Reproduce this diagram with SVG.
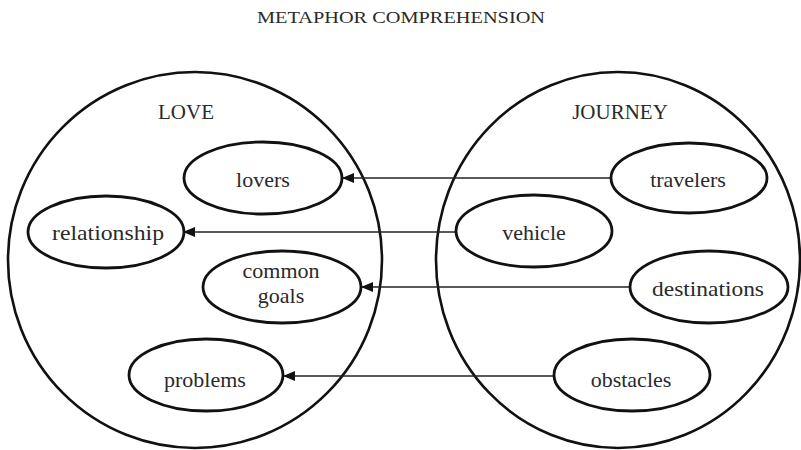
<svg xmlns="http://www.w3.org/2000/svg" width="801" height="450" viewBox="0 0 801 450">
  <defs>
    <style>
      .domain { fill: none; stroke: #111; stroke-width: 2.6; }
      .concept { fill: #fff; stroke: #111; stroke-width: 2.8; }
      .map { stroke: #222; stroke-width: 1.3; fill: none; marker-end: url(#arrow); }
    </style>
    <marker id="arrow" viewBox="0 0 12 10" refX="11" refY="5" markerWidth="12" markerHeight="10" markerUnits="userSpaceOnUse" orient="auto">
      <path d="M0,0 L12,5 L0,10 z" fill="#111"/>
    </marker>
  </defs>

  <rect width="801" height="450" fill="#fff"/>

  <g font-family="Liberation Serif, DejaVu Serif, Times New Roman, serif" fill="#2a2a2a" text-anchor="middle">
    <text font-size="16.5" x="401" y="23" textLength="288" lengthAdjust="spacingAndGlyphs">METAPHOR COMPREHENSION</text>
  </g>

  <!-- target domain -->
  <g id="love" font-family="Liberation Serif, DejaVu Serif, Times New Roman, serif" fill="#2a2a2a" text-anchor="middle">
    <ellipse class="domain" cx="195" cy="260" rx="187" ry="188"/>
    <text font-size="21" x="186" y="119">LOVE</text>
  </g>

  <!-- source domain -->
  <g id="journey" font-family="Liberation Serif, DejaVu Serif, Times New Roman, serif" fill="#2a2a2a" text-anchor="middle">
    <ellipse class="domain" cx="618" cy="260" rx="182" ry="188"/>
    <text font-size="21" x="620" y="119">JOURNEY</text>
  </g>

  <!-- mappings from source to target -->
  <g id="connectors">
    <line class="map" x1="611" y1="178" x2="343" y2="178"/>
    <line class="map" x1="455" y1="232" x2="184" y2="232"/>
    <line class="map" x1="630" y1="287" x2="362" y2="287"/>
    <line class="map" x1="554" y1="376" x2="284" y2="376"/>
  </g>

  <g font-family="Liberation Serif, DejaVu Serif, Times New Roman, serif" font-size="22" fill="#2a2a2a" text-anchor="middle">
    <g id="lovers">
      <ellipse class="concept" cx="263" cy="178" rx="79" ry="36"/>
      <text x="263" y="187">lovers</text>
    </g>
    <g id="relationship">
      <ellipse class="concept" cx="106" cy="232" rx="78" ry="36"/>
      <text x="108" y="240" textLength="112" lengthAdjust="spacingAndGlyphs">relationship</text>
    </g>
    <g id="common-goals">
      <ellipse class="concept" cx="282" cy="287" rx="79" ry="36"/>
      <text x="281" y="278">common</text>
      <text x="281" y="303">goals</text>
    </g>
    <g id="problems">
      <ellipse class="concept" cx="206" cy="375" rx="77" ry="36"/>
      <text x="205" y="387">problems</text>
    </g>

    <g id="travelers">
      <ellipse class="concept" cx="689" cy="178" rx="78" ry="35"/>
      <text x="688" y="187">travelers</text>
    </g>
    <g id="vehicle">
      <ellipse class="concept" cx="534" cy="231" rx="78" ry="36"/>
      <text x="534" y="240">vehicle</text>
    </g>
    <g id="destinations">
      <ellipse class="concept" cx="709" cy="287" rx="79" ry="36"/>
      <text x="708" y="296" textLength="112" lengthAdjust="spacingAndGlyphs">destinations</text>
    </g>
    <g id="obstacles">
      <ellipse class="concept" cx="632" cy="375" rx="78" ry="36"/>
      <text x="631" y="387">obstacles</text>
    </g>
  </g>
</svg>
